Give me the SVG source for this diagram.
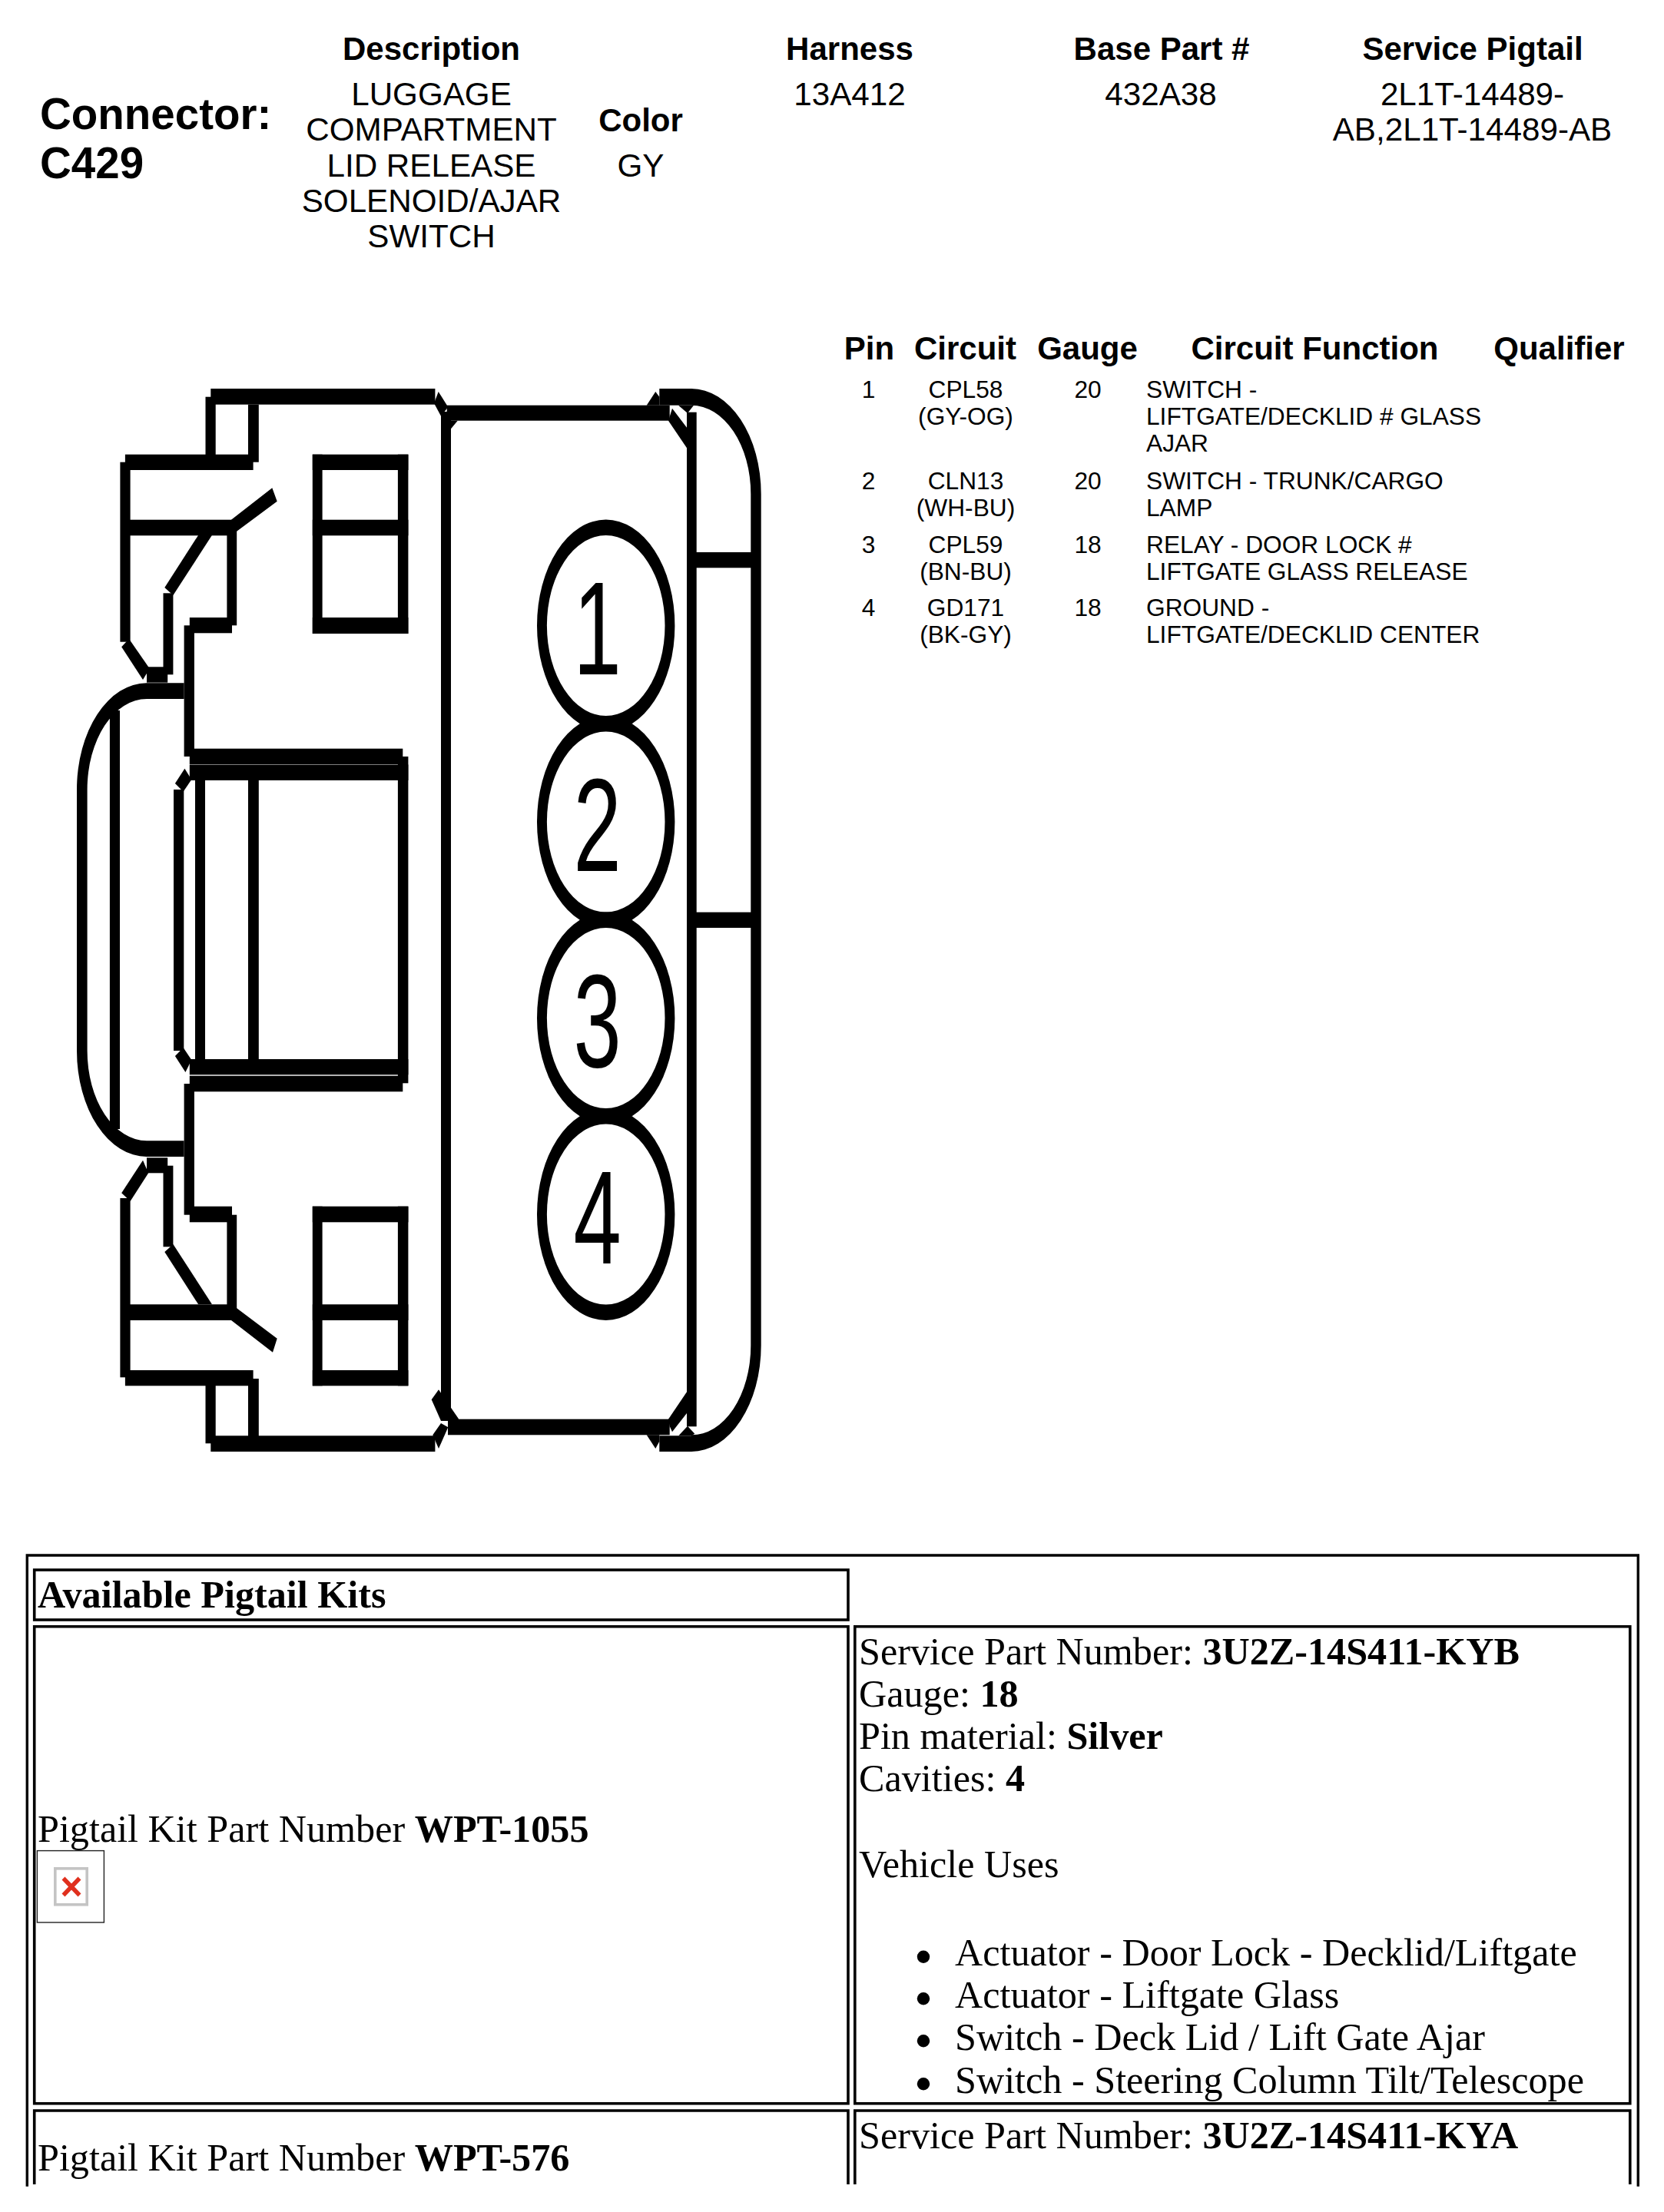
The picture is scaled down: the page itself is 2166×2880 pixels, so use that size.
<svg xmlns="http://www.w3.org/2000/svg" width="2166" height="2880" viewBox="0 0 2166 2880">
<style>
text{fill:#000;font-family:"Liberation Sans",Arial,sans-serif}
.h{font-size:42px;font-weight:700;text-anchor:middle}
.v{font-size:42.2px;text-anchor:middle}
.t{font-size:31.7px}
.m{text-anchor:middle}
.big{font-size:56.5px;font-weight:700}
.pin{font-size:172px;text-anchor:middle}
.s{font-family:"Liberation Serif","Times New Roman",serif;font-size:50.2px}
.s tspan.b,.b{font-weight:700}
.cell{fill:none;stroke:#000;stroke-width:3.6}
</style>
<rect width="2166" height="2880" fill="#fff"/>
<g id="header">
<text class="big" x="52" y="168">Connector:</text>
<text class="big" x="52" y="232">C429</text>
<text class="h" x="561.5" y="78">Description</text>
<text class="v" x="561.5" y="137">LUGGAGE</text>
<text class="v" x="561.5" y="183">COMPARTMENT</text>
<text class="v" x="561.5" y="229.5">LID RELEASE</text>
<text class="v" x="561.5" y="276">SOLENOID/AJAR</text>
<text class="v" x="561.5" y="322">SWITCH</text>
<text class="h" x="834" y="171">Color</text>
<text class="v" x="834" y="229.5">GY</text>
<text class="h" x="1106" y="78">Harness</text>
<text class="v" x="1106" y="137">13A412</text>
<text class="h" x="1512" y="78">Base Part #</text>
<text class="v" x="1511" y="137">432A38</text>
<text class="h" x="1917" y="78">Service Pigtail</text>
<text class="v" x="1916.5" y="137">2L1T-14489-</text>
<text class="v" x="1916.5" y="183">AB,2L1T-14489-AB</text>
</g>
<g id="pin-table">
<text class="h" x="1131.5" y="468">Pin</text>
<text class="h" x="1256.5" y="468">Circuit</text>
<text class="h" x="1415.5" y="468">Gauge</text>
<text class="h" x="1711.5" y="468">Circuit Function</text>
<text class="h" x="2029.5" y="468">Qualifier</text>
<g id="pin-row-1">
<text class="t m" x="1130.5" y="518">1</text><text class="t m" x="1257" y="518">CPL58</text><text class="t m" x="1257" y="553">(GY-OG)</text><text class="t m" x="1416" y="518">20</text>
<text class="t" x="1492" y="518">SWITCH -</text><text class="t" x="1492" y="553">LIFTGATE/DECKLID # GLASS</text><text class="t" x="1492" y="588">AJAR</text>
</g>
<g id="pin-row-2">
<text class="t m" x="1130.5" y="636.5">2</text><text class="t m" x="1257" y="636.5">CLN13</text><text class="t m" x="1257" y="671.5">(WH-BU)</text><text class="t m" x="1416" y="636.5">20</text>
<text class="t" x="1492" y="636.5">SWITCH - TRUNK/CARGO</text><text class="t" x="1492" y="671.5">LAMP</text>
</g>
<g id="pin-row-3">
<text class="t m" x="1130.5" y="720">3</text><text class="t m" x="1257" y="720">CPL59</text><text class="t m" x="1257" y="754.5">(BN-BU)</text><text class="t m" x="1416" y="720">18</text>
<text class="t" x="1492" y="720">RELAY - DOOR LOCK #</text><text class="t" x="1492" y="754.5">LIFTGATE GLASS RELEASE</text>
</g>
<g id="pin-row-4">
<text class="t m" x="1130.5" y="801.5">4</text><text class="t m" x="1257" y="801.5">GD171</text><text class="t m" x="1257" y="836.5">(BK-GY)</text><text class="t m" x="1416" y="801.5">18</text>
<text class="t" x="1492" y="801.5">GROUND -</text><text class="t" x="1492" y="836.5">LIFTGATE/DECKLID CENTER</text>
</g>
</g>
<g id="connector-drawing" fill="#000">
<g id="housing-top">
<rect x="274.3" y="506" width="292.1" height="20.7"/>
<rect x="267.5" y="516.7" width="13.2" height="80"/>
<rect x="323" y="526.7" width="13.8" height="75"/>
<rect x="162.9" y="591.7" width="166.7" height="20.3"/>
<rect x="156.4" y="601.7" width="13.2" height="234"/>
<rect x="160" y="676.7" width="143" height="20.6"/>
<polygon points="301,676.7 354.3,635.3 360.7,652.7 308.2,691.7 303,697.3"/>
<rect x="295.4" y="691.7" width="12.8" height="122.6"/>
<rect x="246.8" y="804" width="55.2" height="20.3"/>
<rect x="239.6" y="814.3" width="13.3" height="170.7"/>
<rect x="246.8" y="974.7" width="277.5" height="20.3"/>
<rect x="212.5" y="772.3" width="12.9" height="106"/>
<rect x="191" y="868.3" width="27.2" height="20.4"/>
<polygon points="214.3,765 258.2,696.7 276,696.7 225.4,775"/>
<polygon points="158.2,842.3 167.9,831.7 193.2,868.3 191,876.7 186,885"/>
<rect x="406.8" y="591.7" width="124.6" height="20.3"/>
<rect x="406.8" y="676.7" width="124.6" height="20.6"/>
<rect x="406.8" y="804" width="124.6" height="21"/>
<rect x="406.8" y="591.7" width="12.8" height="233.3"/>
<rect x="517.9" y="591.7" width="13.5" height="233.3"/>
</g>
<g id="housing-middle">
<rect x="246.8" y="995.5" width="284.6" height="20.5"/>
<rect x="517.9" y="985" width="13.5" height="425.3"/>
<rect x="246.8" y="1379" width="284.6" height="20.3"/>
<rect x="246.8" y="1400.7" width="277.5" height="20.6"/>
<rect x="254" y="1016" width="13" height="363"/>
<rect x="323" y="1016" width="13.8" height="363"/>
<rect x="226" y="1028" width="13.3" height="340"/>
<polygon points="240.4,1000.7 249.3,1015 238.6,1030.7 227.9,1020"/>
<polygon points="227.9,1375 238.6,1364 249.3,1380 241.4,1396"/>
<rect x="239.6" y="1411" width="13.3" height="170.7"/>
</g>
<g id="housing-bump">
<path d="M239.6 889.3H191A91 138.7 0 0 0 100 1028V1368A91 138 0 0 0 191 1506H239.6V1485.3H191A77.4 117.3 0 0 1 113.6 1368V1028A77.4 118 0 0 1 191 910H239.6Z"/>
<rect x="142.9" y="925" width="13.1" height="545"/>
</g>
<g id="housing-bottom">
<rect x="246.8" y="1570.7" width="55.2" height="20.6"/>
<rect x="295.4" y="1581.7" width="12.8" height="123.3"/>
<rect x="160" y="1698.3" width="143" height="20.7"/>
<polygon points="308.2,1703.3 360.7,1742.7 355,1760.7 301,1719 303,1698.3"/>
<rect x="156.4" y="1560" width="13.2" height="233.3"/>
<rect x="162.9" y="1784" width="166.7" height="20.3"/>
<rect x="267.5" y="1803" width="13.2" height="76.3"/>
<rect x="323" y="1795" width="13.8" height="75"/>
<rect x="274.3" y="1869.3" width="292.1" height="20.7"/>
<rect x="212.5" y="1517.7" width="12.9" height="105.6"/>
<rect x="191" y="1507.3" width="27.2" height="20"/>
<polygon points="214.3,1630 225.4,1620 276,1698.3 258.2,1698.3"/>
<polygon points="186,1510.7 193.2,1527.3 169.6,1564 158.2,1553.3"/>
<rect x="406.8" y="1570.7" width="124.6" height="20.6"/>
<rect x="406.8" y="1698.3" width="124.6" height="20.7"/>
<rect x="406.8" y="1784" width="124.6" height="20.3"/>
<rect x="406.8" y="1570.7" width="12.8" height="233.6"/>
<rect x="517.9" y="1570.7" width="13.5" height="233.6"/>
</g>
<g id="plug-body">
<rect x="574" y="536" width="13" height="1314"/>
<rect x="581.7" y="527.7" width="290" height="20"/>
<rect x="583" y="1847.7" width="288.7" height="20.6"/>
<polygon points="587,547.7 595.7,547.7 587,558.3"/>
<polygon points="565,525 570.7,510 583.3,530 574,541.7"/>
<polygon points="561.7,1822.3 571,1809.3 587.3,1833.3 597.3,1847.7 583,1850 574,1850"/>
<polygon points="563.3,1868.3 574,1853 583.3,1858.3 571,1886"/>
<rect x="858.3" y="506" width="41.7" height="21.7"/>
<polygon points="841.7,527.7 853.3,510 858.3,516.7 858.3,527.7"/>
<polygon points="870,547.7 875,531.7 894,556.7 894,583.3"/>
<polygon points="883,527.7 903,527.7 895,538"/>
<rect x="894" y="536.7" width="12.7" height="1320.6"/>
<rect x="858.3" y="1869.3" width="41.7" height="20.7"/>
<polygon points="841.7,1868.3 858.3,1868.3 858.3,1876.7 853.3,1886"/>
<polygon points="870,1847.7 894,1812.3 894,1840 875,1864.3 871.7,1857"/>
<polygon points="883.3,1869.3 895,1856.7 904.3,1866.7 900,1869.3"/>
<path d="M900 506A90.7 137.3 0 0 1 990.7 643.3V1751.7A90.7 138.3 0 0 1 900 1890V1868.3A76.7 116.6 0 0 0 977.3 1751.7V643.3A77.3 115.6 0 0 0 900 527.7Z"/>
<rect x="906" y="719" width="72" height="20.3"/>
<rect x="906" y="1187.7" width="72" height="20.3"/>
</g>
<g fill="#fff">
<g id="cavity-1"><ellipse cx="788.7" cy="814.5" rx="89.7" ry="138" fill="#000"/><ellipse cx="788.7" cy="814.5" rx="76.8" ry="117.5"/></g>
<g id="cavity-2"><path fill="#000" d="M699 1070A89.7 138 0 0 1 878.4 1070A89.7 138 0 0 1 699 1070Z"/><ellipse cx="788.7" cy="1070" rx="76.8" ry="117.5"/></g>
<g id="cavity-3"><path fill="#000" d="M699 1325.5A89.7 138 0 0 1 878.4 1325.5A89.7 138 0 0 1 699 1325.5Z"/><ellipse cx="788.7" cy="1325.5" rx="76.8" ry="117.5"/></g>
<g id="cavity-4"><path fill="#000" d="M699 1581A89.7 138 0 0 1 878.4 1581A89.7 138 0 0 1 699 1581Z"/><ellipse cx="788.7" cy="1581" rx="76.8" ry="117.5"/></g>
</g>
<text class="pin" transform="translate(777.5 878.3) scale(.65 1)">1</text>
<text class="pin" transform="translate(777.5 1133.8) scale(.65 1)">2</text>
<text class="pin" transform="translate(777.5 1389.3) scale(.65 1)">3</text>
<text class="pin" transform="translate(777.5 1645) scale(.65 1)">4</text>
</g>
<g id="pigtail-table">
<path class="cell" style="stroke-width:3.4" d="M35.3 2846.7V2025H2132.3V2846.7"/>
<rect id="kits-heading-cell" class="cell" x="44.7" y="2044" width="1059.3" height="65"/>
<path class="cell" d="M44.7 2738.7V2117.8H1104V2738.7Z"/>
<path class="cell" d="M1112.8 2738.7V2117.8H2121.8V2738.7Z"/>
<path class="cell" d="M44.7 2844V2748H1104V2844"/>
<path class="cell" d="M1112.8 2844V2748H2121.8V2844"/>
<g id="kits-heading"><text class="s b" x="49" y="2093.3">Available Pigtail Kits</text></g>
<g id="kit-1055">
<text class="s" x="49" y="2398.3">Pigtail Kit Part Number <tspan class="b">WPT-1055</tspan></text>
<rect x="48.4" y="2409.6" width="87" height="93.4" fill="#fff" stroke="#222" stroke-width="1.4"/>
<rect x="71.8" y="2432.8" width="41.4" height="47" fill="#fff" stroke="#c4c4c4" stroke-width="3.6"/>
<path d="M82.5 2445.5L103.5 2467.5M103.5 2445.5L82.5 2467.5" fill="none" stroke="#e0301e" stroke-width="5.5"/>
</g>
<g id="kit-1055-details">
<text class="s" x="1118" y="2166.7">Service Part Number: <tspan class="b">3U2Z-14S411-KYB</tspan></text>
<text class="s" x="1118" y="2221.7">Gauge: <tspan class="b">18</tspan></text>
<text class="s" x="1118" y="2276.7">Pin material: <tspan class="b">Silver</tspan></text>
<text class="s" x="1118" y="2331.7">Cavities: <tspan class="b">4</tspan></text>
<text class="s" x="1118" y="2444">Vehicle Uses</text>
<circle cx="1202" cy="2547.7" r="8.2"/><text class="s" x="1243" y="2558.5">Actuator - Door Lock - Decklid/Liftgate</text>
<circle cx="1202" cy="2602.3" r="8.2"/><text class="s" x="1243" y="2613.5">Actuator - Liftgate Glass</text>
<circle cx="1202" cy="2657.3" r="8.2"/><text class="s" x="1243" y="2668.5">Switch - Deck Lid / Lift Gate Ajar</text>
<circle cx="1202" cy="2713.3" r="8.2"/><text class="s" x="1243" y="2724.5">Switch - Steering Column Tilt/Telescope</text>
</g>
<g id="kit-576">
<text class="s" x="49" y="2826">Pigtail Kit Part Number <tspan class="b">WPT-576</tspan></text>
<text class="s" x="1118" y="2797.3">Service Part Number: <tspan class="b">3U2Z-14S411-KYA</tspan></text>
</g>
</g>
</svg>
